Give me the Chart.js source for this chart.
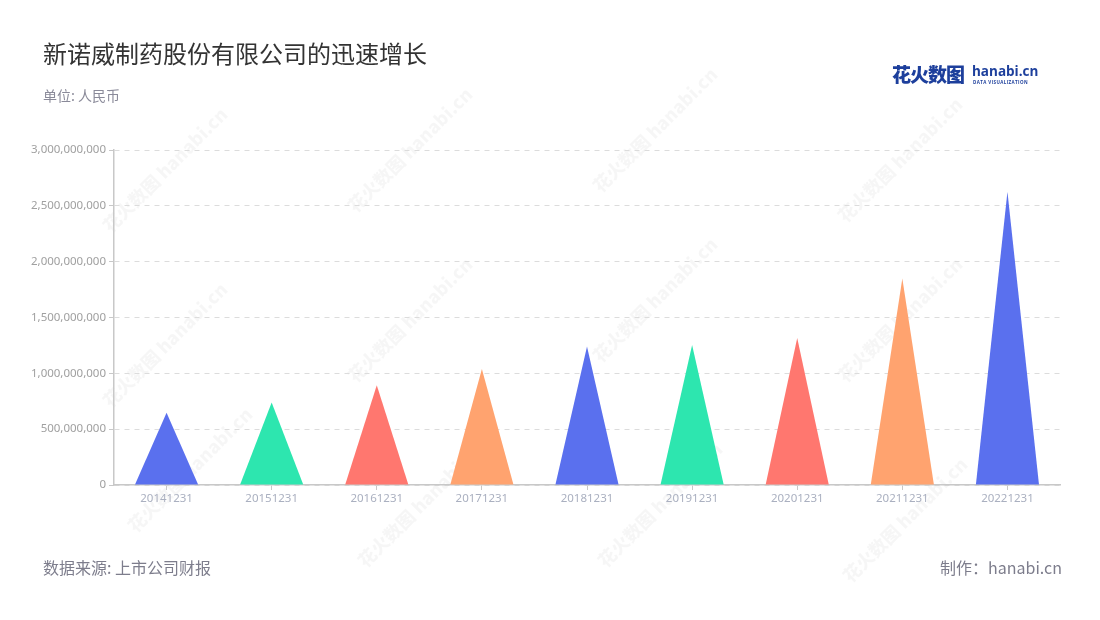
<!DOCTYPE html>
<html>
<head>
<meta charset="utf-8">
<script src="https://cdn.jsdelivr.net/npm/chart.js@4"></script>
<style>
    html, body { margin: 0; padding: 0; background: #fff; }
    #wrap { position: relative; width: 1100px; height: 620px; font-family: "Noto Sans CJK SC", "Noto Sans", sans-serif; }
    #chart { position: absolute; left: 0; top: 0; }
    .title { position: absolute; left: 43px; top: 35px; font-size: 24px; color: #333; }
    .unit { position: absolute; left: 43px; top: 85px; font-size: 14px; color: #8a8a99; }
    .source { position: absolute; left: 43px; top: 555px; font-size: 16px; color: #7d7d8c; }
    .maker { position: absolute; right: 38px; top: 555px; font-size: 16px; color: #7d7d8c; }
    .logo { position: absolute; left: 892px; top: 60px; }
    .logo .cn { font-size: 19px; font-weight: 900; color: #1d3f9c; letter-spacing: -1px; }
    .logo .en { position: absolute; left: 80px; top: 2px; font-family: "Open Sans", sans-serif; font-size: 13.5px; font-weight: 700; color: #1d3f9c; }
    .logo .sub { position: absolute; left: 81px; top: 19px; font-family: "Open Sans", sans-serif; font-size: 4.5px; font-weight: 700; color: #1d3f9c; white-space: nowrap; letter-spacing: 0.4px; }
</style>
</head>
<body>
<div id="wrap">
    <canvas id="chart" width="1100" height="620"></canvas>
    <div class="title">新诺威制药股份有限公司的迅速增长</div>
    <div class="unit">单位: 人民币</div>
    <div class="logo"><span class="cn">花火数图</span><span class="en">hanabi.cn</span><span class="sub">DATA VISUALIZATION</span></div>
    <div class="source">数据来源: 上市公司财报</div>
    <div class="maker">制作：hanabi.cn</div>
</div>
<script>
const categories = ['20141231', '20151231', '20161231', '20171231', '20181231', '20191231', '20201231', '20211231', '20221231'];
const values = [648000000, 738000000, 893000000, 1038000000, 1240000000, 1254000000, 1316000000, 1850000000, 2627000000];
const palette = ['#5A70EE', '#2DE6AF', '#FF776F', '#FFA36F', '#5A70EE', '#2DE6AF', '#FF776F', '#FFA36F', '#5A70EE'];
const watermarkSpots = [[165, 170], [410, 150], [655, 130], [900, 160], [165, 345], [410, 320], [655, 300], [900, 320], [190, 470], [420, 505], [660, 505], [905, 520]];

// draws each bar as a triangle from the bar's base to its top
const trianglePlugin = {
    id: 'triangles',
    beforeDatasetsDraw(chart) {
        const ctx = chart.ctx;
        const meta = chart.getDatasetMeta(0);
        meta.data.forEach((bar, i) => {
            const { x, y, base, width } = bar.getProps(['x', 'y', 'base', 'width'], true);
            ctx.save();
            ctx.fillStyle = palette[i % palette.length];
            ctx.beginPath();
            ctx.moveTo(x - width / 2, base);
            ctx.lineTo(x, y);
            ctx.lineTo(x + width / 2, base);
            ctx.closePath();
            ctx.fill();
            ctx.restore();
        });
        return false;
    }
};

const watermarkPlugin = {
    id: 'watermark',
    beforeDraw(chart) {
        const ctx = chart.ctx;
        ctx.save();
        ctx.fillStyle = 'rgba(0, 0, 0, 0.035)';
        watermarkSpots.forEach(([wx, wy]) => {
            ctx.save();
            ctx.translate(wx, wy);
            ctx.rotate(-Math.PI / 4);
            ctx.font = '900 18px "Noto Sans CJK SC"';
            ctx.textAlign = 'center';
            ctx.textBaseline = 'middle';
            ctx.fillText('花火数图 hanabi.cn', 0, 0);
            ctx.restore();
        });
        ctx.restore();
    }
};

new Chart(document.getElementById('chart').getContext('2d'), {
    type: 'bar',
    data: {
        labels: categories,
        datasets: [{
            label: '营业收入',
            data: values,
            backgroundColor: palette,
            categoryPercentage: 1,
            barPercentage: 0.6
        }]
    },
    options: {
        responsive: false,
        animation: false,
        layout: { padding: { left: 30, right: 40, top: 150, bottom: 105 } },
        scales: {
            x: {
                afterFit: (scale) => { scale.height = 30; },
                border: { color: '#c8c8c8', width: 1.5 },
                grid: { display: true, drawOnChartArea: false, offset: false, color: '#c8c8c8', tickLength: 5 },
                ticks: { color: '#aab0c0', font: { size: 11.5, family: '"Noto Sans", sans-serif' }, padding: 2 }
            },
            y: {
                min: 0,
                max: 3000000000,
                afterFit: (scale) => { scale.width = 84; },
                border: { color: '#c8c8c8', width: 1.5, dash: [5, 5] },
                grid: { color: '#dcdcdc', tickColor: '#c8c8c8', tickLength: 5, tickBorderDash: [] },
                ticks: {
                    stepSize: 500000000,
                    color: '#a0a0a0',
                    font: { size: 11.5, family: '"Noto Sans", sans-serif' },
                    padding: 3,
                    callback: (v) => v.toLocaleString('en-US')
                }
            }
        },
        plugins: {
            legend: { display: false },
            tooltip: { enabled: true }
        }
    },
    plugins: [watermarkPlugin, trianglePlugin]
});
</script>
</body>
</html>
